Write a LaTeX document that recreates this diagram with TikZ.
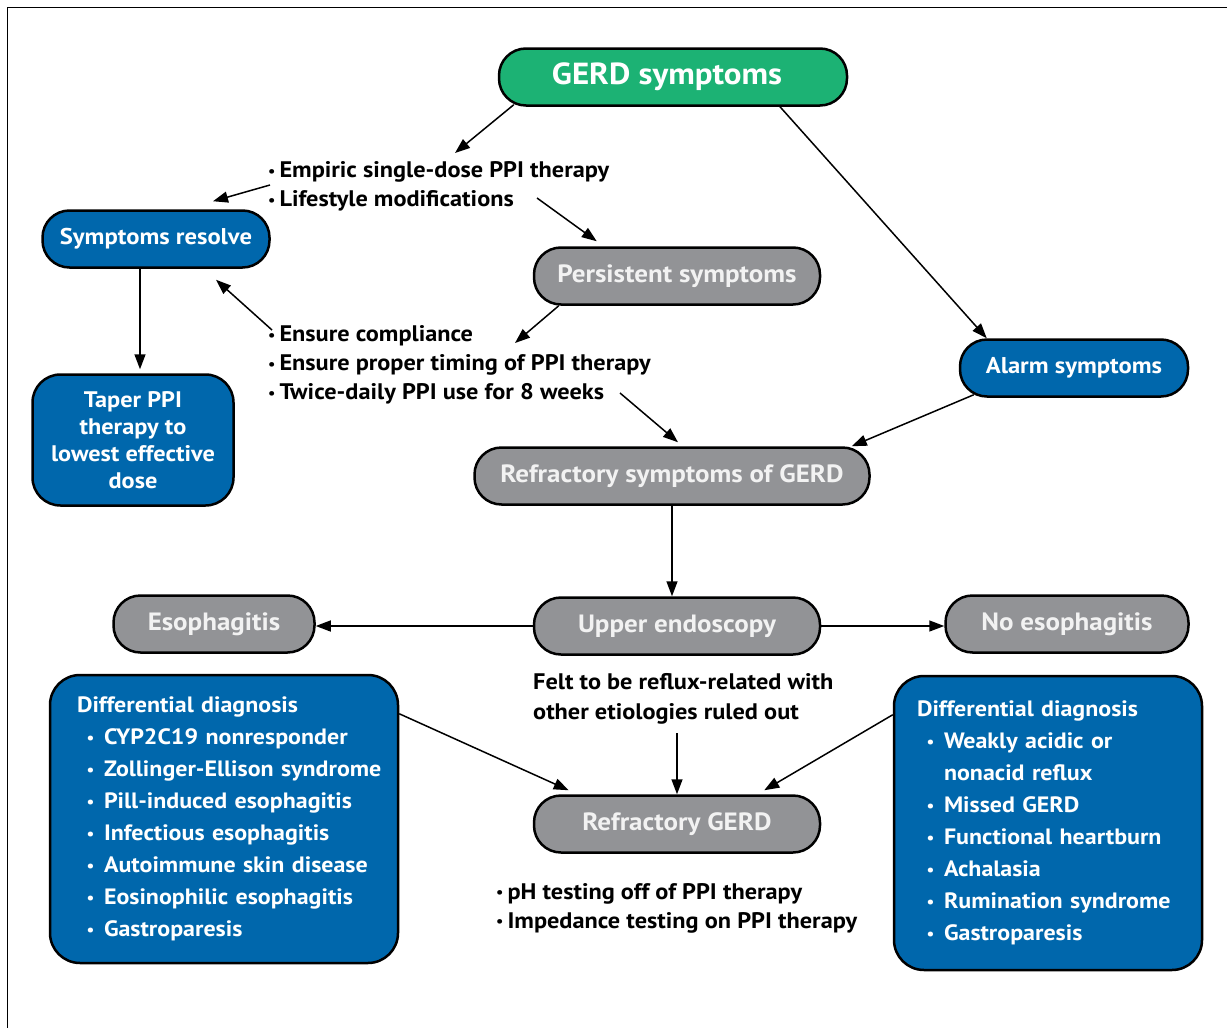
\documentclass[tikz,border=0pt]{standalone}
\usepackage{fontspec}
\setmainfont{PT Sans}[FakeStretch=1.08]
\usepackage{tikz}
\usetikzlibrary{arrows.meta, positioning, calc}
\definecolor{gerdgreen}{RGB}{28, 178, 116}
\definecolor{boxblue}{RGB}{0, 103, 172}
\definecolor{pillgray}{RGB}{146, 147, 150}
\newcommand{\bul}{{\fontsize{15}{15}\selectfont\raisebox{1.5pt}{•}}\hspace{4pt}}
\newcommand{\ditem}[1]{\mbox{\makebox[27pt][c]{\raisebox{1pt}{\fontsize{16}{16}\selectfont •}}#1}}
\tikzset{
  pill/.style={draw=black, line width=2.5pt, rounded corners=27pt, minimum height=57pt,
    inner sep=0pt, text=white, font=\bfseries\fontsize{25}{29}\selectfont},
  bluepill/.style={pill, fill=boxblue, font=\bfseries\fontsize{22.8}{27}\selectfont},
  graypill/.style={pill, fill=pillgray, text=white!95!black},
  bigbox/.style={draw=black, line width=2.5pt, rounded corners=30pt, fill=boxblue,
    inner sep=0pt, text=white, align=left},
  note/.style={anchor=west, align=left, inner sep=0pt, font=\bfseries\fontsize{22.5}{29}\selectfont},
  arr/.style={line width=1.5pt, -{Triangle[length=15pt,width=11pt]}},
}
\begin{document}
\begin{tikzpicture}[x=1pt, y=1pt]
\useasboundingbox (0,0) rectangle (1227,-1028);
\draw[line width=1pt] (7,-1028) -- (7,-7) -- (1227,-7);

% top row
\node[pill, fill=gerdgreen, minimum width=348pt, font=\bfseries\fontsize{30.5}{34}\selectfont] (gerd) at (673,-77) {GERD symptoms\hspace*{12pt}};
\node[bluepill, minimum width=227pt] (resolve) at (156,-239) {Symptoms resolve};
\node[graypill, minimum width=286pt] (persist) at (677,-276) {Persistent symptoms};
\node[bluepill, minimum width=228pt] (alarm) at (1074,-368) {Alarm symptoms};
\node[draw=black, line width=2.5pt, rounded corners=28pt, fill=boxblue, text=white, align=center,
  minimum width=201pt, minimum height=131pt, inner sep=0pt,
  font=\bfseries\fontsize{22.5}{27}\selectfont] (taper) at (133,-440) {Taper PPI\\therapy to\\lowest effective\\dose};

% notes
\node[note] (emp) at (268,-186.5) {\bul Empiric single-dose PPI therapy\\\bul Lifestyle modifications};
\node[note] (ens) at (268,-365) {\bul Ensure compliance\\\bul Ensure proper timing of PPI therapy\\\bul Twice-daily PPI use for 8 weeks};
\coordinate (empin) at (455,-153);
\coordinate (empout1) at (270,-185);
\coordinate (empout2) at (537,-198);
\coordinate (ensin) at (515,-343);
\coordinate (ensout1) at (272,-330);
\coordinate (ensout2) at (620,-393);

% middle
\node[graypill, minimum width=395pt] (refsym) at (672,-476) {Refractory symptoms of GERD};
\node[graypill, minimum width=286pt] (endo) at (677,-626) {Upper endoscopy};
\node[graypill, minimum width=201pt] (eso) at (214,-624) {Esophagitis};
\node[graypill, minimum width=243pt] (noeso) at (1067,-624) {No esophagitis};
\node[note, font=\bfseries\fontsize{22.5}{30}\selectfont] (felt) at (533,-699) {Felt to be reflux-related with\\other etiologies ruled out};
\coordinate (feltout) at (677,-733);

% bottom
\node[graypill, minimum width=286pt] (refgerd) at (677,-824) {Refractory GERD};
\node[note] (phtest) at (496,-908) {\bul pH testing off of PPI therapy\\\bul Impedance testing on PPI therapy};
\node[bigbox, minimum width=348pt, minimum height=288pt, text width=294pt,
  font=\bfseries\fontsize{22.2}{32}\selectfont] (diffL) at (224,-819) {%
  Differential diagnosis\\
  \ditem{CYP2C19 nonresponder}\\
  \ditem{Zollinger-Ellison syndrome}\\
  \ditem{Pill-induced esophagitis}\\
  \ditem{Infectious esophagitis}\\
  \ditem{Autoimmune skin disease}\\
  \ditem{Eosinophilic esophagitis}\\
  \ditem{Gastroparesis}};
\node[bigbox, minimum width=308pt, minimum height=294pt, text width=262pt,
  font=\bfseries\fontsize{22.2}{32}\selectfont] (diffR) at (1048,-823) {%
  Differential diagnosis\\
  \ditem{Weakly acidic or}\\
  \hspace*{27pt}nonacid reflux\\
  \ditem{Missed GERD}\\
  \ditem{Functional heartburn}\\
  \ditem{Achalasia}\\
  \ditem{Rumination syndrome}\\
  \ditem{Gastroparesis}};

% connectors
\draw[arr] ($(gerd.south west)+(16,2)$) -- (empin);
\draw[arr] (empout1) -- ($(resolve.north)+(57,8)$);
\draw[arr] (empout2) -- ($(persist.north west)+(64,5)$);
\draw[arr] ($(persist.south west)+(26,0)$) -- (ensin);
\draw[arr] (ensout1) -- ($(resolve.south)+(60,-11)$);
\draw[arr] (ensout2) -- ($(refsym.north)+(6,4)$);
\draw[arr] ($(resolve.south)+(-16,0)$) -- ($(taper.north)+(7,4)$);
\draw[arr] ($(gerd.south)+(107,0)$) -- ($(alarm.north west)+(28,0)$);
\draw[arr] ($(alarm.south west)+(15,3)$) -- ($(refsym.north east)+(-19,0)$);
\draw[arr] (refsym.south) -- (refsym.south |- endo.north);
\draw[arr] (endo.west) -- (endo.west -| eso.east);
\draw[arr] (endo.east) -- (endo.east -| noeso.west);
\draw[arr] (feltout) -- (refgerd.north);
\draw[arr] ($(diffL.north east)+(0,-40)$) -- ($(refgerd.north west)+(36,4)$);
\draw[arr] ($(diffR.north west)+(0,-40)$) -- ($(refgerd.north east)+(-57,4)$);
\end{tikzpicture}
\end{document}
